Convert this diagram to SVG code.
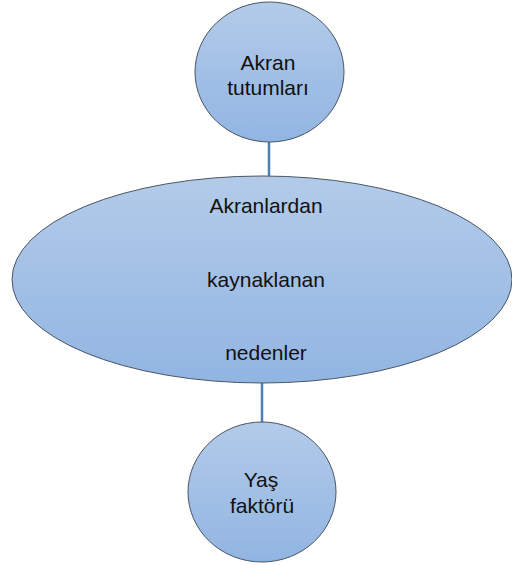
<svg xmlns="http://www.w3.org/2000/svg" width="512" height="565" viewBox="0 0 512 565">
<defs>
<linearGradient id="g" x1="0" y1="0" x2="0" y2="1">
<stop offset="0" stop-color="#b3cbe9"/>
<stop offset="1" stop-color="#91b5e2"/>
</linearGradient>
<style>
.n{fill:url(#g);stroke:#4a5564;stroke-width:1}
.t{font-family:"Liberation Sans",Arial,sans-serif;font-size:21px;fill:#111;text-anchor:middle}
.c{stroke:#4f7fb4;stroke-width:2.5;fill:none}
</style>
</defs>
<rect width="512" height="565" fill="#fff"/>
<g id="connectors">
<line class="c" x1="269" y1="142" x2="269" y2="176"/>
<line class="c" x1="262" y1="383" x2="262" y2="422"/>
</g>
<g id="akran">
<ellipse class="n" cx="269.5" cy="72" rx="74.5" ry="70"/>
<text class="t" x="268" y="70">Akran</text>
<text class="t" x="268" y="95">tutumları</text>
</g>
<g id="akranlardan">
<ellipse class="n" cx="262" cy="279.5" rx="250" ry="103.5"/>
<text class="t" x="266" y="213">Akranlardan</text>
<text class="t" x="266" y="287">kaynaklanan</text>
<text class="t" x="266" y="360">nedenler</text>
</g>
<g id="yas">
<ellipse class="n" cx="262" cy="492" rx="74" ry="70"/>
<text class="t" x="261" y="487">Yaş</text>
<text class="t" x="262" y="513">faktörü</text>
</g>
</svg>
